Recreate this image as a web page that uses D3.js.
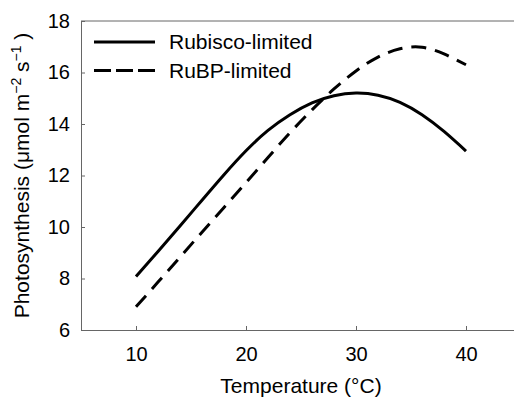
<!DOCTYPE html>
<html>
<head>
<meta charset="utf-8">
<script src="https://cdn.jsdelivr.net/npm/d3@7"></script>
<style>
  body { margin: 0; background: #fff; }
  text { font-family: Arial, "Liberation Sans", sans-serif; fill: #000; }
</style>
</head>
<body>
<div id="chart"></div>
<script>
var svgWidth = 514;
var svgHeight = 400;

var margin = { top: 21, right: -7, bottom: 70, left: 81 };
var width = svgWidth - margin.left - margin.right;
var height = svgHeight - margin.top - margin.bottom;

// values
var temps = [10, 12, 14, 16, 18, 20, 22, 24, 26, 28, 30, 32, 34, 36, 38, 40];
var rubisco = [8.08, 9.05, 10.04, 11.04, 12.03, 12.96, 13.75, 14.36, 14.82, 15.1, 15.2, 15.12, 14.84, 14.36, 13.71, 12.95];
var rubp = [6.9, 7.86, 8.83, 9.8, 10.76, 11.72, 12.7, 13.66, 14.55, 15.36, 16.06, 16.6, 16.92, 16.98, 16.72, 16.3];
var xTicks = [10, 20, 30, 40];
var yTicks = [6, 8, 10, 12, 14, 16, 18];
var seriesNames = ["Rubisco-limited", "RuBP-limited"];

var svg = d3.select("#chart")
  .append("svg")
  .attr("width", svgWidth)
  .attr("height", svgHeight);

var chartGroup = svg.append("g")
  .attr("transform", `translate(${margin.left}, ${margin.top})`);

var xScale = d3.scaleLinear().domain([5, 45]).range([0, width]);
var yScale = d3.scaleLinear().domain([6, 18]).range([height, 0]);

// axes, ticks point inward
var xAxis = chartGroup.append("g")
  .attr("transform", `translate(0, ${height})`)
  .call(d3.axisBottom(xScale).tickValues(xTicks).tickSize(-4).tickSizeOuter(0).tickPadding(17));

var yAxis = chartGroup.append("g")
  .call(d3.axisLeft(yScale).tickValues(yTicks).tickSize(-4).tickSizeOuter(0).tickPadding(11));

// top border
chartGroup.append("line")
  .attr("x1", 0).attr("x2", width)
  .attr("y1", 0).attr("y2", 0)
  .attr("stroke", "#666");

chartGroup.selectAll(".domain, .tick line").attr("stroke", "#666");
chartGroup.selectAll(".tick text")
  .style("font-size", "20px")
  .attr("fill", "#000");

// curves
var line = d3.line()
  .x((d, i) => xScale(temps[i]))
  .y(d => yScale(d))
  .curve(d3.curveNatural);

chartGroup.append("path")
  .datum(rubisco)
  .attr("d", line)
  .attr("fill", "none")
  .attr("stroke", "#000")
  .attr("stroke-width", 3);

chartGroup.append("path")
  .datum(rubp)
  .attr("d", line)
  .attr("fill", "none")
  .attr("stroke", "#000")
  .attr("stroke-width", 3)
  .attr("stroke-dasharray", "15,9");

// legend
var legend = chartGroup.append("g").attr("transform", "translate(13, 21)");
seriesNames.forEach(function(name, i) {
  var y = i * 28.5;
  legend.append("line")
    .attr("x1", 0).attr("x2", 61)
    .attr("y1", y).attr("y2", y)
    .attr("stroke", "#000")
    .attr("stroke-width", 3)
    .attr("stroke-dasharray", i === 1 ? "17,5" : null);
  legend.append("text")
    .attr("x", 75)
    .attr("y", y + 7)
    .style("font-size", "21px")
    .text(name);
});

// axis titles
svg.append("text")
  .attr("x", margin.left + xScale(25))
  .attr("y", 393)
  .attr("text-anchor", "middle")
  .style("font-size", "21px")
  .text("Temperature (°C)");

var yTitle = svg.append("text")
  .attr("transform", `translate(29, ${margin.top + height / 2}) rotate(-90)`)
  .attr("text-anchor", "middle")
  .style("font-size", "21px");
yTitle.append("tspan").text("Photosynthesis (μmol m");
yTitle.append("tspan").attr("dy", -8).style("font-size", "14px").text("−2");
yTitle.append("tspan").attr("dy", 8).text(" s");
yTitle.append("tspan").attr("dy", -8).style("font-size", "14px").text("−1");
yTitle.append("tspan").attr("dy", 8).text(" )");
</script>
</body>
</html>
